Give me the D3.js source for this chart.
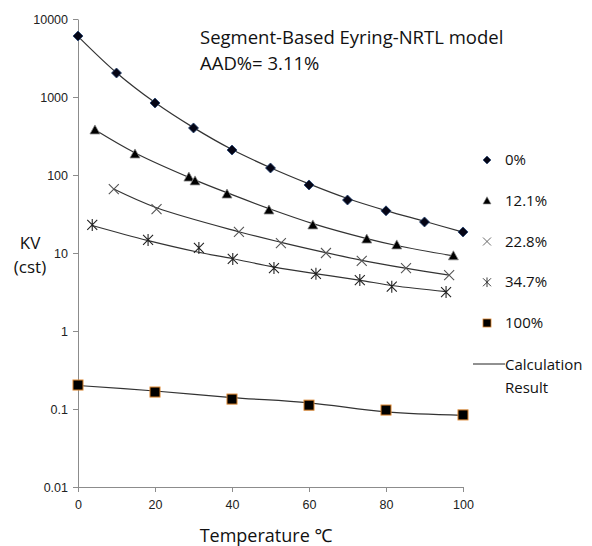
<!DOCTYPE html>
<html>
<head>
<meta charset="utf-8">
<script src="https://cdn.jsdelivr.net/npm/d3@7"></script>
<style>
  body { margin: 0; background: #fff; }
  svg { font-family: "Open Sans", "Noto Sans", sans-serif; }
</style>
</head>
<body>
<svg id="chart" width="592" height="546"></svg>
<script>
// measured points
const t0 = [0, 10, 20, 30, 40, 50, 60, 70, 80, 90, 100];
const kv0 = [6050, 2030, 838, 401, 209, 123, 74.5, 47.8, 34.7, 25, 18.6];
const t121 = [4.4, 14.8, 28.8, 30.4, 38.7, 49.6, 61, 75, 82.8, 97.5];
const kv121 = [378, 186, 94, 84, 57, 35.6, 22.9, 15.1, 12.7, 9.2];
const t228 = [9.3, 20.4, 41.8, 52.7, 64.4, 73.7, 85.2, 96.4];
const kv228 = [66, 36.6, 18.6, 13.4, 10, 7.9, 6.4, 5.2];
const t347 = [3.7, 18.2, 31.4, 40.2, 50.9, 61.8, 73.2, 81.5, 95.6];
const kv347 = [22.9, 14.7, 11.6, 8.4, 6.4, 5.4, 4.5, 3.7, 3.16];
const t100 = [0, 20, 40, 60, 80, 100];
const kv100 = [0.203, 0.165, 0.134, 0.112, 0.097, 0.084];

// calculation result curves
const c0T = [0, 10, 20, 30, 40, 50, 60, 70, 80, 90, 100];
const c0V = [6000, 2050, 850, 405, 212, 124, 77, 50, 35, 25.5, 18.5];
const c121T = [4.4, 15, 30, 40, 50, 61, 75, 83, 97.5];
const c121V = [380, 190, 88, 56, 36.5, 23.8, 15.3, 12.4, 9.2];
const c228T = [9.3, 20.4, 42, 53, 64, 74, 85, 96.4];
const c228V = [66, 38, 18.6, 13.6, 10.2, 8.0, 6.4, 5.2];
const c347T = [3.7, 18, 31, 40, 51, 62, 73, 82, 95.6];
const c347V = [22.5, 14.5, 10.3, 8.5, 6.6, 5.4, 4.5, 3.8, 3.2];
const c100T = [0, 20, 40, 60, 80, 100];
const c100V = [0.20, 0.17, 0.14, 0.12, 0.092, 0.083];

const xTicks = [0, 20, 40, 60, 80, 100];
const yTicks = [0.01, 0.1, 1, 10, 100, 1000, 10000];
const seriesNames = ['0%', '12.1%', '22.8%', '34.7%', '100%'];

const svg = d3.select('#chart');
const x = d3.scaleLinear().domain([0, 100]).range([78, 463]);
const y = d3.scaleLog().domain([0.01, 10000]).range([487, 19]);

// axes
const xAxis = svg.append('g')
  .attr('transform', `translate(0,${y(0.01)})`)
  .call(d3.axisBottom(x).tickValues(xTicks).tickSize(5).tickSizeOuter(0).tickPadding(8));
const yAxis = svg.append('g')
  .attr('transform', `translate(${x(0)},0)`)
  .call(d3.axisLeft(y).tickValues(yTicks).tickFormat(d => d3.format('~')(d)).tickSize(5).tickSizeOuter(0).tickPadding(5));
[xAxis, yAxis].forEach(a => {
  a.selectAll('path, line').attr('stroke', '#8c8c8c');
  a.selectAll('text').attr('fill', '#222').style('font-size', '12.5px');
});

const line = d3.line().x(d => x(d[0])).y(d => y(d[1])).curve(d3.curveCatmullRom);
const zip = (a, b) => a.map((v, i) => [v, b[i]]);
[[c0T, c0V], [c121T, c121V], [c228T, c228V], [c347T, c347V], [c100T, c100V]].forEach(c => {
  svg.append('path').datum(zip(c[0], c[1]))
    .attr('d', line)
    .attr('fill', 'none')
    .attr('stroke', '#333')
    .attr('stroke-width', 1.2);
});

// markers
function marker(g, type) {
  if (type === 0) {
    g.append('path').attr('d', 'M0,-5L5,0L0,5L-5,0Z').attr('fill', '#050515').attr('stroke', '#1f3f6f').attr('stroke-width', 0.8);
  } else if (type === 1) {
    g.append('path').attr('d', 'M0,-5L5,4L-5,4Z').attr('fill', '#000').attr('stroke', '#888').attr('stroke-width', 0.8);
  } else if (type === 2) {
    g.append('path').attr('d', 'M-5,-5L5,5M5,-5L-5,5').attr('stroke', '#555').attr('stroke-width', 1.1);
  } else if (type === 3) {
    g.append('path').attr('d', 'M-5,-5L5,5M5,-5L-5,5M0,-6L0,6').attr('stroke', '#222').attr('stroke-width', 1.1);
  } else {
    g.append('rect').attr('x', -5).attr('y', -5).attr('width', 10).attr('height', 10)
      .attr('fill', '#000').attr('stroke', '#d9822b').attr('stroke-width', 1);
  }
}
[[t0, kv0], [t121, kv121], [t228, kv228], [t347, kv347], [t100, kv100]].forEach((s, k) => {
  svg.append('g').selectAll('g').data(zip(s[0], s[1])).enter().append('g')
    .attr('transform', d => `translate(${x(d[0])},${y(d[1])})`)
    .each(function () { marker(d3.select(this), k); });
});

// legend
const legY = d3.scalePoint().domain(seriesNames).range([160, 323]);
seriesNames.forEach((n, k) => {
  const g = svg.append('g').attr('transform', `translate(487,${legY(n)})`);
  g.append('g').attr('transform', 'scale(0.8)').each(function () { marker(d3.select(this), k); });
  g.append('text').attr('x', 18).attr('y', 5).text(n).style('font-size', '15px').attr('fill', '#111');
});
svg.append('line').attr('x1', 473).attr('x2', 505).attr('y1', 364).attr('y2', 364).attr('stroke', '#222');
svg.append('text').attr('x', 505).attr('y', 370).text('Calculation').style('font-size', '15px').attr('fill', '#111');
svg.append('text').attr('x', 505).attr('y', 393).text('Result').style('font-size', '15px').attr('fill', '#111');

// titles
svg.append('text').attr('x', 200).attr('y', 44).text('Segment-Based Eyring-NRTL model').style('font-size', '18.5px').attr('fill', '#111');
svg.append('text').attr('x', 200).attr('y', 70).text('AAD%= 3.11%').style('font-size', '18.5px').attr('fill', '#111');
svg.append('text').attr('x', 30).attr('y', 249).attr('text-anchor', 'middle').text('KV').style('font-size', '17px').attr('fill', '#111');
svg.append('text').attr('x', 30).attr('y', 273).attr('text-anchor', 'middle').text('(cst)').style('font-size', '17px').attr('fill', '#111');
svg.append('text').attr('x', 266).attr('y', 542).attr('text-anchor', 'middle').text('Temperature ℃').style('font-size', '18px').attr('fill', '#111');
</script>
</body>
</html>
